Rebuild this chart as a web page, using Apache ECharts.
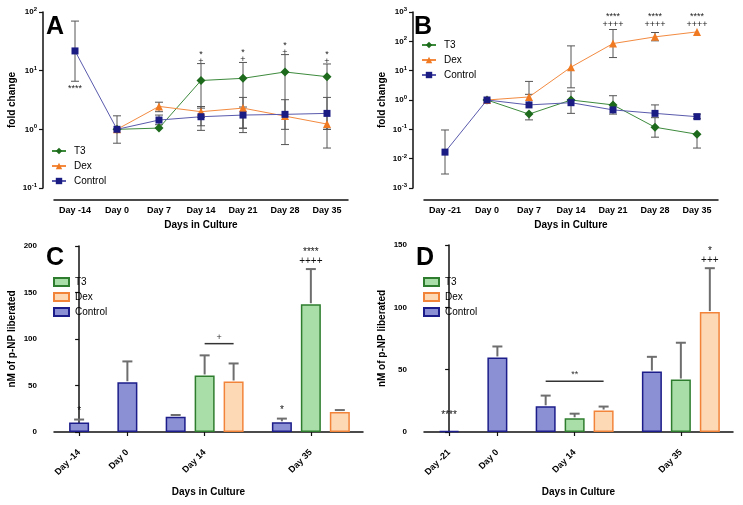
<!DOCTYPE html>
<html><head><meta charset="utf-8">
<script src="https://cdn.jsdelivr.net/npm/echarts@6/dist/echarts.min.js"></script>
<style>html,body{margin:0;padding:0;background:#fff}#c{width:743px;height:505px}</style>
</head><body><div id="c"></div>
<script>
// ================= DATA =================
// Panel A (fold change, log)
const daysA = ['Day -14','Day 0','Day 7','Day 14','Day 21','Day 28','Day 35'];
const t3A     = [null, 1, 1.05, 6.8, 7.4, 9.5, 7.9];
const t3AHi   = [null, null, null, 13.2, 13.8, 18.8, 13];
const t3ALo   = [null, null, null, 1.15, 1.04, 1.0, 1.0];
const dexA    = [null, 1, 2.46, 2.0, 2.3, 1.68, 1.23];
const dexAHi  = [null, null, 2.9, 2.45, 3.5, null, null];
const dexALo  = [null, null, 2.0, 1.6, 1.05, null, 0.48];
const ctlA    = [21.7, 1, 1.44, 1.64, 1.75, 1.8, 1.87];
const ctlAHi  = [70, 1.7, 1.75, 2.3, 2.4, 3.2, 3.5];
const ctlALo  = [6.6, 0.58, 1.2, 0.96, 0.88, 0.55, 1.0];
const sigAboveT3A = ['', '', '', '*\n+', '*\n+', '*\n+', '*\n+'];
const sigBelowCtlA = ['****', '', '', '', '', '', ''];

// Panel B (fold change, log)
const daysB = ['Day -21','Day 0','Day 7','Day 14','Day 21','Day 28','Day 35'];
const t3B     = [null, 1, 0.33, 1.0, 0.68, 0.118, 0.068];
const t3BHi   = [null, null, null, 2.0, 1.4, 0.25, null];
const t3BLo   = [null, null, 0.21, null, null, 0.054, 0.023];
const dexB    = [null, 1, 1.27, 13.2, 84, 142, 210];
const dexBHi  = [null, null, 4.3, 70, 253, 200, null];
const dexBLo  = [null, null, null, 2.6, 28, 104, null];
const ctlB    = [0.0167, 1, 0.68, 0.81, 0.46, 0.35, 0.27];
const ctlBHi  = [0.095, null, 1.56, null, null, 0.68, 0.33];
const ctlBLo  = [0.003, null, null, 0.35, 0.33, null, 0.23];
const sigTopB = ['', '', '', '', '****\n++++', '****\n++++', '****\n++++'];
const sigLevelB = 500;

// Panel C (nM p-NP, bars)
const daysC = ['Day -14','Day 0','Day 14','Day 35'];
const ctlC   = [10.2, 53.5, 16.5, 10.4];
const ctlCSd = [3.2, 22.4, 1.8, 4.0];
const t3C    = [null, null, 60.8, 137.4];
const t3CSd  = [null, null, 21.6, 37.8];
const dexC   = [null, null, 54.3, 21.6];
const dexCSd = [null, null, 19.4, 2.0];
const sigCtlC = ['*', '', '', '*'];
const sigT3C  = ['', '', '', '****\n++++'];
const sigDexC = ['', '', '', ''];
const bracketC = {group: 2, from: 1, to: 2, level: 95, text: '+'};

// Panel D (nM p-NP, bars)
const daysD = ['Day -21','Day 0','Day 14','Day 35'];
const ctlD   = [0.8, 59.8, 20.6, 48.5];
const ctlDSd = [null, 8.8, 8.6, 11.8];
const t3D    = [null, null, 11.0, 42.1];
const t3DSd  = [null, null, 3.7, 29.5];
const dexD   = [null, null, 17.2, 96.2];
const dexDSd = [null, null, 3.2, 35.2];
const sigCtlD = ['****', '', '', ''];
const sigT3D  = ['', '', '', ''];
const sigDexD = ['', '', '', '*\n+++'];
const bracketD = {group: 2, from: 0, to: 2, level: 40.8, text: '**'};

// ================= LAYOUT / STYLE =================
const FONT = '"Liberation Sans", Arial, Helvetica, sans-serif';
const groupCenter = [0, 5, 13, 24];   // bar-group slots on hidden value axis
const barStep = 3;
const slotMin = -2.6, slotMax = 29.4;
const COL = {
  t3:  {line:'#3d8a3d', mark:'#1d6a1d', fill:'#a9dea9', border:'#2e7d2e'},
  dex: {line:'#f38a40', mark:'#f07a22', fill:'#fdd9b6', border:'#f2843a'},
  ctl: {line:'#5a5aad', mark:'#1b1b84', fill:'#8b8fd4', border:'#1c1c8a'}
};

const chart = echarts.init(document.getElementById('c'), null, {renderer:'canvas'});

function axisLineStyle(){ return {show:true, lineStyle:{color:'#111', width:1.5}}; }
function logYAxis(gi, min, max){
  return {gridIndex:gi, type:'log', logBase:10, min, max, offset:11,
    axisLine:axisLineStyle(), axisTick:{show:true, length:4, lineStyle:{color:'#111', width:1.2}},
    splitLine:{show:false}, minorTick:{show:false},
    axisLabel:{margin:6, color:'#000', fontFamily:FONT, fontSize:8, fontWeight:'bold',
      formatter:v=>'10{s|'+Math.round(Math.log10(v))+'}',
      rich:{s:{fontSize:6, fontWeight:'bold', fontFamily:FONT, color:'#000', padding:[0,0,5,0]}}},
    name:'fold change', nameLocation:'middle', nameGap:26,
    nameTextStyle:{fontFamily:FONT, fontSize:10, fontWeight:'bold', color:'#000'}};
}
function linYAxis(gi, max){
  return {gridIndex:gi, type:'value', min:0, max, interval:50, offset:11,
    axisLine:axisLineStyle(), axisTick:{show:true, length:4, lineStyle:{color:'#111', width:1.2}},
    splitLine:{show:false},
    axisLabel:{margin:6, color:'#000', fontFamily:FONT, fontSize:8, fontWeight:'bold'},
    name:'nM of p-NP liberated', nameLocation:'middle', nameGap:26,
    nameTextStyle:{fontFamily:FONT, fontSize:10, fontWeight:'bold', color:'#000'}};
}
function catXAxis(gi, data){
  return {gridIndex:gi, type:'category', data, boundaryGap:true, offset:12,
    axisLine:axisLineStyle(), axisTick:{show:false},
    axisLabel:{interval:0, margin:6, color:'#000', fontFamily:FONT, fontSize:9, fontWeight:'bold'},
    name:'Days in Culture', nameLocation:'middle', nameGap:20,
    nameTextStyle:{fontFamily:FONT, fontSize:10, fontWeight:'bold', color:'#000'}};
}
function slotXAxis(gi, cats){
  return {gridIndex:gi, type:'value', min:slotMin, max:slotMax, offset:13,
    axisLine:axisLineStyle(), splitLine:{show:false},
    axisTick:{show:true, length:4, customValues:groupCenter, lineStyle:{color:'#111', width:1.2}},
    axisLabel:{customValues:groupCenter, rotate:45, margin:6, color:'#000', fontFamily:FONT, fontSize:9, fontWeight:'bold',
      formatter:v=>{const i=groupCenter.indexOf(v); return i>=0?cats[i]:'';}},
    name:'Days in Culture', nameLocation:'middle', nameGap:42,
    nameTextStyle:{fontFamily:FONT, fontSize:10, fontWeight:'bold', color:'#000'}};
}
function hiddenX(gi){ return {gridIndex:gi, type:'value', min:slotMin, max:slotMax, show:false}; }

function lineSeries(name, data, col, sym, size, xi, yi, z){
  return {type:'line', name, data, xAxisIndex:xi, yAxisIndex:yi, symbol:sym, symbolSize:size,
    showSymbol:true, lineStyle:{color:col.line, width:1}, itemStyle:{color:col.mark},
    emphasis:{disabled:true}, z, animation:false};
}
function errSeries(mean, hi, lo, xi, yi){
  const data=[];
  mean.forEach((m,i)=>{ if(m==null) return; const h=hi[i], l=lo[i]; if(h==null && l==null) return;
    data.push([i, h==null?m:h, l==null?m:l, h==null?0:1, l==null?0:1]); });
  return {type:'custom', xAxisIndex:xi, yAxisIndex:yi, data, z:1, silent:true, animation:false,
    encode:{x:0, y:[1,2]},
    renderItem:(p, api)=>{
      const x=api.value(0); const t=api.coord([x, api.value(1)]), b=api.coord([x, api.value(2)]);
      const st={stroke:'#555', lineWidth:1}; const w=4;
      const ch=[{type:'line', shape:{x1:t[0],y1:t[1],x2:b[0],y2:b[1]}, style:st}];
      if(api.value(3)) ch.push({type:'line', shape:{x1:t[0]-w,y1:t[1],x2:t[0]+w,y2:t[1]}, style:st});
      if(api.value(4)) ch.push({type:'line', shape:{x1:b[0]-w,y1:b[1],x2:b[0]+w,y2:b[1]}, style:st});
      return {type:'group', children:ch};
    }};
}
// annotation text on line panels
function textSeries(items, texts, xi, yi, vAlign, fs, lh){
  return {type:'custom', xAxisIndex:xi, yAxisIndex:yi, data:items, z:10, silent:true, animation:false,
    encode:{x:0, y:1},
    renderItem:(p, api)=>{
      const c=api.coord([api.value(0), api.value(1)]);
      return {type:'text', x:c[0], y:c[1]+api.value(2), style:{text:texts[p.dataIndex], fill:'#222',
        fontFamily:FONT, fontSize:fs, lineHeight:lh, align:'center', verticalAlign:vAlign}};
    }};
}
function annotLine(mean, ref, sig, xi, yi, dy, vAlign, lh){
  const items=[], texts=[];
  sig.forEach((s,i)=>{ if(s){ items.push([i, ref[i]!=null?ref[i]:mean[i], dy]); texts.push(s);} });
  return textSeries(items, texts, xi, yi, vAlign, 9, lh||8);
}

// ---- bars ----
function nAt(g, arrs){ return arrs.filter(a=>a[g]!=null).length; }
function slotX(g, si, arrs){ return nAt(g, arrs)===1 ? groupCenter[g] : groupCenter[g] + (si-1)*barStep; }
function barSeries(name, vals, col, si, arrs, xi, yi){
  const data=[]; vals.forEach((v,g)=>{ if(v!=null) data.push([slotX(g,si,arrs), v]); });
  return {type:'bar', name, data, xAxisIndex:xi, yAxisIndex:yi, barWidth:20, z:2,
    itemStyle:{color:col.fill, borderColor:col.border, borderWidth:1.5},
    emphasis:{disabled:true}, animation:false};
}
// error bar (mean + SD) plus significance marks above it, one item per bar
function barErr(vals, sd, sig, si, arrs, xi, yi, fallback){
  const data=[], texts=[];
  vals.forEach((v,g)=>{ if(v==null) return;
    const hasSd = sd[g]!=null;
    if(!hasSd && !sig[g]) return;
    data.push([slotX(g,si,arrs), v, v + (hasSd ? sd[g] : fallback), hasSd?1:0]);
    texts.push(sig[g]||'');
  });
  return {type:'custom', xAxisIndex:xi, yAxisIndex:yi, data, z:3, silent:true, animation:false,
    encode:{x:0, y:[1,2]},
    renderItem:(p, api)=>{
      const b=api.coord([api.value(0), api.value(1)]), t=api.coord([api.value(0), api.value(2)]);
      const st={stroke:'#6e6e6e', lineWidth:2}; const w=5;
      const ch=[];
      if(api.value(3)){
        ch.push({type:'line', shape:{x1:b[0],y1:b[1]-1,x2:t[0],y2:t[1]}, style:st});
        ch.push({type:'line', shape:{x1:t[0]-w,y1:t[1],x2:t[0]+w,y2:t[1]}, style:st});
      }
      const txt=texts[p.dataIndex];
      if(txt){
        const single = txt.indexOf('\n')<0;
        ch.push({type:'text', x:t[0], y:t[1]-(single?4:3), z2:20,
          style:{text:txt, fill:'#111', fontFamily:FONT, fontSize:10, lineHeight:9, align:'center', verticalAlign:'bottom'}});
      }
      return {type:'group', children:ch};
    }};
}
function bracketSeries(br, arrs, xi, yi){
  const x1=slotX(br.group, br.from, arrs), x2=slotX(br.group, br.to, arrs);
  return {type:'custom', xAxisIndex:xi, yAxisIndex:yi, data:[[x1, br.level, x2]], z:4, silent:true, animation:false,
    encode:{x:[0,2], y:1},
    renderItem:(p, api)=>{
      const a=api.coord([api.value(0), api.value(1)]), b=api.coord([api.value(2), api.value(1)]);
      return {type:'group', children:[
        {type:'line', shape:{x1:a[0],y1:a[1],x2:b[0],y2:b[1]}, style:{stroke:'#333', lineWidth:1.5}},
        {type:'text', x:(a[0]+b[0])/2, y:a[1]-2, style:{text:br.text, fill:'#333', fontFamily:FONT, fontSize:9, align:'center', verticalAlign:'bottom'}}]};
    }};
}

const arrsC=[ctlC, t3C, dexC], arrsD=[ctlD, t3D, dexD];

function legendFor(left, top, names, icon){
  return {left, top, orient:'vertical', padding:0, itemGap:5, itemWidth:icon?15:14, itemHeight:8,
    icon: icon||undefined, selectedMode:false,
    textStyle:{fontFamily:FONT, fontSize:10, color:'#000', padding:[0,0,0,icon?1:3]},
    formatter:n=>n.split('#')[0], data:names};
}
function letter(t, x, y){
  return {type:'text', left:x, top:y, style:{text:t, fontFamily:FONT, fontSize:25, fontWeight:'bold', fill:'#000'}};
}

const option = {
  animation:false,
  backgroundColor:'#fff',
  grid:[
    {left:54, top:12, width:294, height:176, outerBoundsMode:'none'},
    {left:424, top:12, width:294, height:176, outerBoundsMode:'none'},
    {left:54, top:246, width:309, height:186, outerBoundsMode:'none'},
    {left:424, top:245, width:309, height:187, outerBoundsMode:'none'}
  ],
  xAxis:[
    catXAxis(0, daysA), catXAxis(1, daysB),
    slotXAxis(2, daysC), hiddenX(2), hiddenX(2),
    slotXAxis(3, daysD), hiddenX(3), hiddenX(3)
  ],
  yAxis:[ logYAxis(0, 0.1, 100), logYAxis(1, 0.001, 1000), linYAxis(2, 200), linYAxis(3, 150) ],
  legend:[
    legendFor(51, 146, ['T3#a','Dex#a','Control#a']),
    legendFor(421, 40, ['T3#b','Dex#b','Control#b']),
    legendFor(53, 277, ['T3#c','Dex#c','Control#c'], 'rect'),
    legendFor(423, 277, ['T3#d','Dex#d','Control#d'], 'rect')
  ],
  graphic:[ letter('A', 46, 15), letter('B', 414, 15), letter('C', 46, 246), letter('D', 416, 246) ],
  series:[
    // A
    errSeries(t3A, t3AHi, t3ALo, 0, 0), errSeries(dexA, dexAHi, dexALo, 0, 0), errSeries(ctlA, ctlAHi, ctlALo, 0, 0),
    lineSeries('T3#a', t3A, COL.t3, 'diamond', 9, 0, 0, 3),
    lineSeries('Dex#a', dexA, COL.dex, 'triangle', 8, 0, 0, 4),
    lineSeries('Control#a', ctlA, COL.ctl, 'rect', 7, 0, 0, 5),
    annotLine(t3A, t3AHi, sigAboveT3A, 0, 0, 1, 'bottom', 7),
    annotLine(ctlA, ctlALo, sigBelowCtlA, 0, 0, 3, 'top'),
    // B
    errSeries(t3B, t3BHi, t3BLo, 1, 1), errSeries(dexB, dexBHi, dexBLo, 1, 1), errSeries(ctlB, ctlBHi, ctlBLo, 1, 1),
    lineSeries('T3#b', t3B, COL.t3, 'diamond', 9, 1, 1, 3),
    lineSeries('Dex#b', dexB, COL.dex, 'triangle', 8, 1, 1, 4),
    lineSeries('Control#b', ctlB, COL.ctl, 'rect', 7, 1, 1, 5),
    annotLine(dexB, dexB.map(()=>sigLevelB), sigTopB, 1, 1, 0, 'middle'),
    // C
    barSeries('Control#c', ctlC, COL.ctl, 0, arrsC, 2, 2),
    barSeries('T3#c', t3C, COL.t3, 1, arrsC, 3, 2),
    barSeries('Dex#c', dexC, COL.dex, 2, arrsC, 4, 2),
    barErr(ctlC, ctlCSd, sigCtlC, 0, arrsC, 2, 2, 0),
    barErr(t3C, t3CSd, sigT3C, 1, arrsC, 2, 2, 0),
    barErr(dexC, dexCSd, sigDexC, 2, arrsC, 2, 2, 0),
    bracketSeries(bracketC, arrsC, 2, 2),
    // D
    barSeries('Control#d', ctlD, COL.ctl, 0, arrsD, 5, 3),
    barSeries('T3#d', t3D, COL.t3, 1, arrsD, 6, 3),
    barSeries('Dex#d', dexD, COL.dex, 2, arrsD, 7, 3),
    barErr(ctlD, ctlDSd, sigCtlD, 0, arrsD, 5, 3, 6),
    barErr(t3D, t3DSd, sigT3D, 1, arrsD, 5, 3, 0),
    barErr(dexD, dexDSd, sigDexD, 2, arrsD, 5, 3, 0),
    bracketSeries(bracketD, arrsD, 5, 3)
  ]
};
chart.setOption(option);
</script></body></html>
